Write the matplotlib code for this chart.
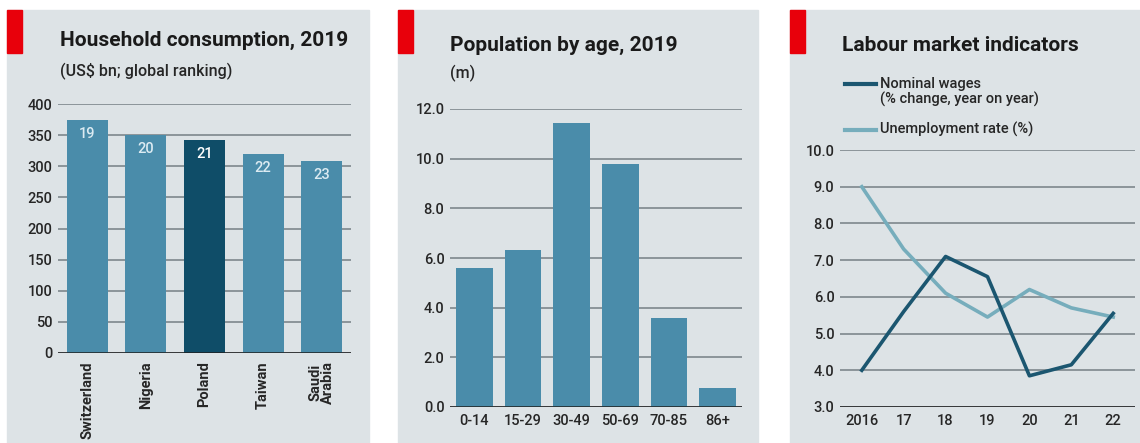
import matplotlib
matplotlib.use("Agg")
import matplotlib.pyplot as plt
from matplotlib.patches import Rectangle
from matplotlib.lines import Line2D

W, H = 1140, 443

# household consumption, 2019
countries = ["Switzerland", "Nigeria", "Poland", "Taiwan", "Saudi\nArabia"]
consumption = [374, 350, 342, 320, 308]
ranking = [19, 20, 21, 22, 23]

# population by age, 2019
age_groups = ["0-14", "15-29", "30-49", "50-69", "70-85", "86+"]
population = [5.6, 6.32, 11.44, 9.79, 3.58, 0.77]

# labour market
years = [2016, 2017, 2018, 2019, 2020, 2021, 2022]
year_labels = ["2016", "17", "18", "19", "20", "21", "22"]
wages = [4.0, 5.6, 7.1, 6.55, 3.85, 4.15, 5.55]
unemployment = [9.0, 7.3, 6.1, 5.45, 6.2, 5.7, 5.45]

BG = "#dde3e6"
BAR = "#4a8caa"
DARK = "#0f4d68"
WAGE_C = "#1b5670"
UNEMP_C = "#76adbc"
GRID = "#7d878d"
TXT = "#262626"
RED = "#e8000b"

plt.rcParams["font.family"] = ["Roboto", "DejaVu Sans"]


def rect(x0, y0, x1, y1):
    return [x0 / W, 1 - y1 / H, (x1 - x0) / W, (y1 - y0) / H]


fig = plt.figure(figsize=(W / 100, H / 100), dpi=100)
fig.patch.set_facecolor("white")

# panel backgrounds and red tabs
for x0, x1 in [(7, 369), (398, 758), (790, 1140)]:
    fig.add_artist(Rectangle((x0 / W, 0), (x1 - x0) / W, 1 - 10 / H,
                             transform=fig.transFigure, color=BG, zorder=0))
    fig.add_artist(Rectangle((x0 / W, 1 - 53 / H), 15 / W, 43 / H,
                             transform=fig.transFigure, color=RED, zorder=1))


def style(ax, lo):
    ax.set_facecolor("none")
    for s in ax.spines.values():
        s.set_visible(False)
    ax.yaxis.grid(True, color=GRID, lw=1.2, zorder=0)
    ax.set_axisbelow(True)
    ax.axhline(lo, color="#1e1e1e", lw=1.8, zorder=5)
    ax.tick_params(axis="y", length=0, pad=4, labelsize=10.5, labelcolor=TXT)
    ax.tick_params(axis="x", length=0, labelcolor=TXT)
    for t in ax.get_yticklabels() + ax.get_xticklabels():
        if t.get_fontweight() not in ("bold", 700):
            t.set_fontweight("medium")


# panel 1
ax1 = fig.add_axes(rect(58, 104, 351, 353))
colors = [DARK if c == "Poland" else BAR for c in countries]
bars = ax1.bar(range(len(countries)), consumption, width=0.7, color=colors, zorder=3)
for b, r, c in zip(bars, ranking, countries):
    ax1.annotate(str(r), (b.get_x() + b.get_width() / 2, b.get_height()),
                 xytext=(0, -5), textcoords="offset points", ha="center", va="top",
                 fontsize=10.5, fontweight="medium",
                 color="white" if c == "Poland" else "#dcebf2", zorder=4)
ax1.set_ylim(0, 400)
ax1.set_xlim(-0.5, 4.5)
ax1.set_yticks(range(0, 401, 50))
ax1.set_xticks(range(len(countries)))
ax1.set_xticklabels(countries, rotation=90, fontsize=10.5, fontweight="bold",
                    va="top", ha="center", linespacing=0.9)
style(ax1, 0)
ax1.tick_params(axis="x", pad=6)

fig.text(60 / W, 1 - 46 / H, "Household consumption, 2019",
         fontsize=15, fontweight="bold", color="#1a1a1a", va="baseline")
fig.text(60 / W, 1 - 76 / H, "(US$ bn; global ranking)",
         fontsize=11.5, fontweight="medium", color=TXT, va="baseline")

# panel 2
ax2 = fig.add_axes(rect(450, 109, 742, 407))
ax2.bar(range(len(age_groups)), population, width=0.75, color=BAR, zorder=3)
ax2.set_ylim(0, 12)
ax2.set_xlim(-0.5, 5.5)
ax2.set_yticks(range(0, 13, 2))
ax2.set_yticklabels([f"{v:.1f}" for v in range(0, 13, 2)])
ax2.set_xticks(range(len(age_groups)))
ax2.set_xticklabels(age_groups, fontsize=10.5)
style(ax2, 0)
ax2.tick_params(axis="x", pad=5)

fig.text(450 / W, 1 - 51 / H, "Population by age, 2019",
         fontsize=15, fontweight="bold", color="#1a1a1a", va="baseline")
fig.text(450 / W, 1 - 78 / H, "(m)",
         fontsize=11.5, fontweight="medium", color=TXT, va="baseline")

# panel 3
ax3 = fig.add_axes(rect(840, 150, 1135, 407))
ax3.plot(years, unemployment, color=UNEMP_C, lw=2.6, zorder=3,
         solid_joinstyle="round")
ax3.plot(years, wages, color=WAGE_C, lw=2.6, zorder=4, solid_joinstyle="round")
ax3.set_ylim(3, 10)
ax3.set_xlim(2015.48, 2022.52)
ax3.set_yticks(range(3, 11))
ax3.set_yticklabels([f"{v:.1f}" for v in range(3, 11)])
ax3.set_xticks(years)
ax3.set_xticklabels(year_labels, fontsize=10.5)
style(ax3, 3)
ax3.tick_params(axis="x", pad=5)

fig.text(842 / W, 1 - 51 / H, "Labour market indicators",
         fontsize=15, fontweight="bold", color="#1a1a1a", va="baseline")
for y, col in [(84, WAGE_C), (130, UNEMP_C)]:
    fig.add_artist(Line2D([845 / W, 876 / W], [1 - y / H, 1 - y / H],
                          transform=fig.transFigure, color=col, lw=3))
fig.text(880 / W, 1 - 88 / H, "Nominal wages",
         fontsize=10.5, fontweight="medium", color=TXT, va="baseline")
fig.text(880 / W, 1 - 104 / H, "(% change, year on year)",
         fontsize=10.5, fontweight="medium", color=TXT, va="baseline")
fig.text(880 / W, 1 - 134 / H, "Unemployment rate (%)",
         fontsize=10.5, fontweight="medium", color=TXT, va="baseline")

fig.savefig("out.png", dpi=100, facecolor=fig.get_facecolor())
